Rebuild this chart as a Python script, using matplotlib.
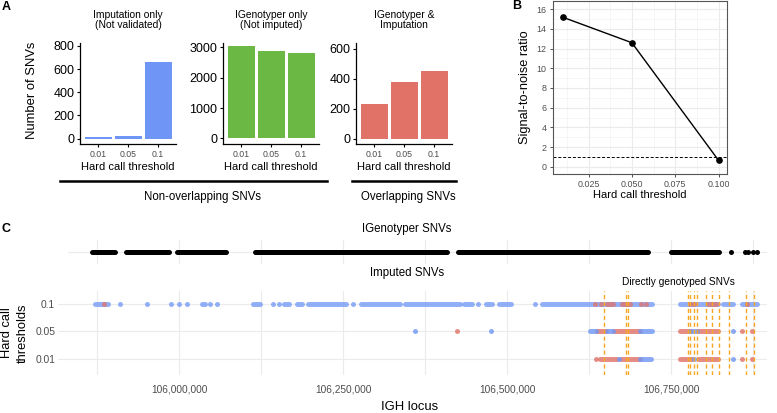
import matplotlib
matplotlib.use("Agg")
import matplotlib.pyplot as plt
from matplotlib.lines import Line2D
from matplotlib.ticker import FuncFormatter

plt.rcParams["font.family"] = ["Liberation Sans", "DejaVu Sans"]

# ---------------- panel A: SNV counts per hard call threshold
thresholds = ["0.01", "0.05", "0.1"]
imputation_only = [12, 26, 665]
igenotyper_only = [3025, 2870, 2805]
both_methods = [228, 380, 454]

# ---------------- panel B: signal-to-noise
snr_threshold = [0.01, 0.05, 0.1]
snr_ratio = [15.2, 12.6, 0.65]
snr_cutoff = 1

# ---------------- panel C: SNV positions on the IGH locus (bp)
# dense stretches are stored as (start, end), isolated SNVs as single positions
ig_runs = [(105868000, 105902000), (105919000, 105985000), (105997000, 106072000),
           (106116000, 106409000), (106425000, 106715000), (106750000, 106823000)]
ig_dots = [106841000, 106863000, 106867000, 106875000, 106881000]

t10_blue_runs = [(105872000, 105892000), (106035000, 106040000), (106113000, 106123000),
                 (106160000, 106168000), (106180000, 106188000), (106197000, 106255000),
                 (106277000, 106337000), (106345000, 106428000), (106434000, 106447000),
                 (106468000, 106477000), (106488000, 106506000), (106553000, 106721000),
                 (106764000, 106822000), (106829000, 106845000), (106858000, 106881000)]
t10_blue_dots = [105910000, 105951000, 105988000, 106000000, 106012000, 106047000,
                 106058000, 106143000, 106152000, 106265000, 106456000, 106543000]
t10_red_runs = [(106652000, 106662000), (106675000, 106688000), (106806000, 106819000)]
t10_red_dots = [105886000, 106634000, 106643000, 106704000, 106712000, 106779000,
                106785000, 106866000]

t05_red_runs = [(106637000, 106651000), (106663000, 106703000), (106764000, 106779000),
                (106791000, 106822000)]
t05_red_dots = [106424000, 106858000, 106873000]
t05_blue_runs = [(106627000, 106636000), (106652000, 106662000), (106703000, 106721000),
                 (106779000, 106790000)]
t05_blue_dots = [106360000, 106476000, 106845000]

t01_red_runs = [(106642000, 106668000), (106674000, 106703000), (106764000, 106782000),
                (106791000, 106822000)]
t01_red_dots = [106636000, 106858000, 106873000]
t01_blue_runs = [(106703000, 106720000)]
t01_blue_dots = [106671000, 106785000, 106845000]

genotyped_snvs = [106648000, 106681000, 106684000, 106776000, 106779000, 106785000,
                  106790000, 106803000, 106813000, 106823000, 106838000, 106864000,
                  106877000]

row_labels = ["0.01", "0.05", "0.1"]

BLUE = "#6F96F6"
GREEN = "#6BB844"
RED = "#E07268"
ORANGE = "#F6A623"
GRID = "#EBEBEB"
TXT = "#4D4D4D"

W, H = 777, 413
fig = plt.figure(figsize=(W / 100, H / 100), dpi=100)


def box(x0, y0, x1, y1):
    return [x0 / W, 1 - y1 / H, (x1 - x0) / W, (y1 - y0) / H]


def ftext(x, y, s, **kw):
    fig.text(x / W, 1 - y / H, s, **kw)


# ---------------- A
bar_panels = [
    ((80, 43, 176, 144), imputation_only, BLUE, (-47, 825), [0, 200, 400, 600, 800],
     "Imputation only\n(Not validated)"),
    ((223, 43, 319, 144), igenotyper_only, GREEN, (-182, 3140), [0, 1000, 2000, 3000],
     "IGenotyper only\n(Not imputed)"),
    ((356, 43, 452, 144), both_methods, RED, (-36, 638), [0, 200, 400, 600],
     "IGenotyper &\nImputation"),
]
for pos, vals, col, ylim, yt, title in bar_panels:
    ax = fig.add_axes(box(*pos))
    ax.bar([1, 2, 3], vals, width=0.9, color=col)
    ax.set_xlim(0.4, 3.6)
    ax.set_ylim(*ylim)
    ax.set_yticks(yt)
    ax.set_xticks([1, 2, 3])
    ax.set_xticklabels(thresholds)
    for s in ["top", "right"]:
        ax.spines[s].set_visible(False)
    for s in ["left", "bottom"]:
        ax.spines[s].set_linewidth(0.9)
    ax.tick_params(axis="y", labelsize=9, length=2.5, width=0.8, pad=1.5, colors="black")
    ax.tick_params(axis="x", labelsize=6.3, length=2.5, width=0.8, pad=2,
                   labelcolor=TXT)
    cx = (pos[0] + pos[2]) / 2
    ftext(cx, 20, title, ha="center", va="center", fontsize=7.4, linespacing=1.1)
    ftext(cx, 167, "Hard call threshold", ha="center", va="center", fontsize=8)

ftext(32, 90, "Number of SNVs", rotation=90, ha="center", va="center", fontsize=9.4)
fig.add_artist(Line2D([60 / W, 327 / W], [1 - 181 / H] * 2, color="black", lw=1.8))
fig.add_artist(Line2D([352 / W, 456 / W], [1 - 181 / H] * 2, color="black", lw=1.8))
ftext(202, 197, "Non-overlapping SNVs", ha="center", va="center", fontsize=8.3)
ftext(408, 197, "Overlapping SNVs", ha="center", va="center", fontsize=8.3)
ftext(6, 7, "A", ha="center", va="center", fontsize=9, fontweight="bold")

# ---------------- B
axb = fig.add_axes(box(553, 1, 727, 174))
axb.plot(snr_threshold, snr_ratio, color="black", lw=1.0, marker="o", ms=3.8, zorder=3)
axb.axhline(snr_cutoff, color="black", lw=0.7, ls=(0, (3, 2)), zorder=2)
axb.set_xlim(0.0045, 0.1049)
axb.set_ylim(-0.74, 16.84)
axb.set_xticks([0.025, 0.05, 0.075, 0.1])
axb.set_xticklabels(["0.025", "0.050", "0.075", "0.100"])
axb.set_yticks(range(0, 17, 2))
axb.set_xticks([0.0125, 0.0375, 0.0625, 0.0875], minor=True)
axb.set_yticks(range(1, 17, 2), minor=True)
axb.grid(which="major", color=GRID, lw=0.8, zorder=0)
axb.grid(which="minor", color="#F3F3F3", lw=0.5, zorder=0)
axb.set_axisbelow(True)
axb.tick_params(which="minor", length=0)
axb.tick_params(which="major", labelsize=6.4, length=2.5, width=0.6, color="#333333",
                labelcolor=TXT, pad=2)
for s in axb.spines.values():
    s.set_color("#555555")
    s.set_linewidth(0.8)
ftext(525, 87, "Signal-to-noise ratio", rotation=90, ha="center", va="center", fontsize=9.2)
ftext(640, 195, "Hard call threshold", ha="center", va="center", fontsize=8)
ftext(517, 6, "B", ha="center", va="center", fontsize=9, fontweight="bold")

# ---------------- C
major = [106000000, 106250000, 106500000, 106750000]
minor = [105875000, 106125000, 106375000, 106625000, 106875000]


def draw_row(ax, y, runs, dots, color, alpha):
    for a, b in runs:
        ax.hlines(y, a, b, colors=color, linewidth=3.6, alpha=alpha,
                  capstyle="round", zorder=2)
    ax.scatter(dots, [y] * len(dots), s=13, color=color, alpha=alpha,
               linewidths=0, zorder=2)


def locus_axes(pos, x0):
    ax = fig.add_axes(box(*pos))
    ax.set_xlim(x0, 106896347)
    ax.set_xticks(major)
    ax.set_xticks(minor, minor=True)
    ax.grid(which="both", axis="x", color=GRID, lw=0.8, zorder=0)
    ax.grid(which="major", axis="y", color=GRID, lw=0.8, zorder=0)
    ax.set_axisbelow(True)
    for s in ax.spines.values():
        s.set_visible(False)
    ax.tick_params(which="both", length=0)
    return ax


axu = locus_axes((68, 240, 767, 264), 105830791)
axu.set_ylim(-1, 1)
axu.set_yticks([0])
axu.set_yticklabels([])
axu.set_xticklabels([])
draw_row(axu, 0, ig_runs, ig_dots, "black", 1.0)

axl = locus_axes((58, 291, 767, 375), 105815547)
axl.set_ylim(0.42, 3.47)
axl.set_yticks([1, 2, 3])
axl.set_yticklabels(row_labels)
axl.xaxis.set_major_formatter(FuncFormatter(lambda v, p: f"{int(v):,}"))
axl.tick_params(axis="x", labelsize=7.3, labelcolor=TXT, pad=7)
axl.tick_params(axis="y", labelsize=7.4, labelcolor=TXT, pad=2)

draw_row(axl, 3, t10_blue_runs, t10_blue_dots, BLUE, 0.75)
draw_row(axl, 3, t10_red_runs, t10_red_dots, RED, 0.75)
draw_row(axl, 2, t05_red_runs, t05_red_dots, RED, 0.8)
draw_row(axl, 2, t05_blue_runs, t05_blue_dots, BLUE, 0.8)
draw_row(axl, 1, t01_red_runs, t01_red_dots, RED, 0.8)
draw_row(axl, 1, t01_blue_runs, t01_blue_dots, BLUE, 0.8)
for g in genotyped_snvs:
    axl.axvline(g, color=ORANGE, lw=1.0, ls=(0, (3, 2)), zorder=4)

ftext(407, 229, "IGenotyper SNVs", ha="center", va="center", fontsize=8.3)
ftext(407, 273, "Imputed SNVs", ha="center", va="center", fontsize=8.3)
ftext(678, 282, "Directly genotyped SNVs", ha="center", va="center", fontsize=7.3)
ftext(410, 407, "IGH locus", ha="center", va="center", fontsize=9.4)
ftext(15, 333, "Hard call\nthresholds", rotation=90, ha="center", va="center",
      fontsize=9.3, linespacing=1.35)
ftext(6, 229, "C", ha="center", va="center", fontsize=9, fontweight="bold")

fig.savefig("out.png", dpi=100)
